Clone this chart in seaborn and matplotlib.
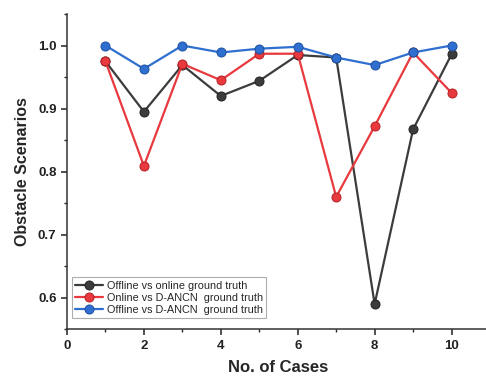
import matplotlib
matplotlib.use("Agg")
import matplotlib.pyplot as plt
import seaborn as sns
import pandas as pd
from matplotlib.ticker import MultipleLocator

cases = [1, 2, 3, 4, 5, 6, 7, 8, 9, 10]
offline_vs_online = [0.975, 0.895, 0.969, 0.920, 0.944, 0.985, 0.981, 0.590, 0.867, 0.986]
online_vs_danc = [0.975, 0.809, 0.971, 0.945, 0.987, 0.987, 0.760, 0.872, 0.989, 0.925]
offline_vs_danc = [1.000, 0.963, 1.000, 0.989, 0.995, 0.998, 0.981, 0.969, 0.989, 1.000]
labels = ["Offline vs online ground truth",
          "Online vs D-ANCN  ground truth",
          "Offline vs D-ANCN  ground truth"]
colors = ["#3c3c3c", "#e8393e", "#2f6fd0"]
edges = ["#222222", "#b52025", "#1d4f9e"]

sns.set_style("ticks")
plt.rcParams['font.family'] = ['Liberation Sans', 'DejaVu Sans']

fig = plt.figure(figsize=(4.86, 3.79), dpi=100)
ax = fig.add_axes([67/486, 1 - 329.3/379, (490 - 67)/486, (329.3 - 14)/379])

series = [offline_vs_online, online_vs_danc, offline_vs_danc]
for vals, lab, c, ec in zip(series, labels, colors, edges):
    df = pd.DataFrame({"case": cases, "value": vals})
    sns.lineplot(data=df, x="case", y="value", ax=ax, color=c, label=lab,
                 marker="o", markersize=6.5, markeredgecolor=ec, markeredgewidth=0.7,
                 linewidth=1.6)

ax.set_xlim(0, 11)
ax.set_ylim(0.55, 1.05)
ax.xaxis.set_major_locator(MultipleLocator(2))
ax.xaxis.set_minor_locator(MultipleLocator(1))
ax.yaxis.set_major_locator(MultipleLocator(0.1))
ax.yaxis.set_minor_locator(MultipleLocator(0.05))
ax.yaxis.set_major_formatter(matplotlib.ticker.FormatStrFormatter('%.1f'))
ax.tick_params(axis='both', which='major', direction='out', length=4, width=1.1,
               labelsize=9.5, colors='#222222')
ax.tick_params(axis='both', which='minor', direction='out', length=2.5, width=1.0)
for t in ax.get_xticklabels() + ax.get_yticklabels():
    t.set_fontweight('bold')
sns.despine(ax=ax)
for s in ['left', 'bottom']:
    ax.spines[s].set_linewidth(1.1)
    ax.spines[s].set_color('#333333')

ax.set_xlabel("No. of Cases", fontsize=12, fontweight='bold', labelpad=6)
ax.set_ylabel("Obstacle Scenarios", fontsize=11.5, fontweight='bold', labelpad=6)

leg = ax.legend(loc='lower left', bbox_to_anchor=(0.012, 0.035), fontsize=7.8,
                frameon=True, fancybox=False, edgecolor='#999999',
                handlelength=2.6, handletextpad=0.3, borderpad=0.3,
                labelspacing=0.2, borderaxespad=0)
leg.get_frame().set_linewidth(0.8)

fig.savefig("out.png", dpi=100)
